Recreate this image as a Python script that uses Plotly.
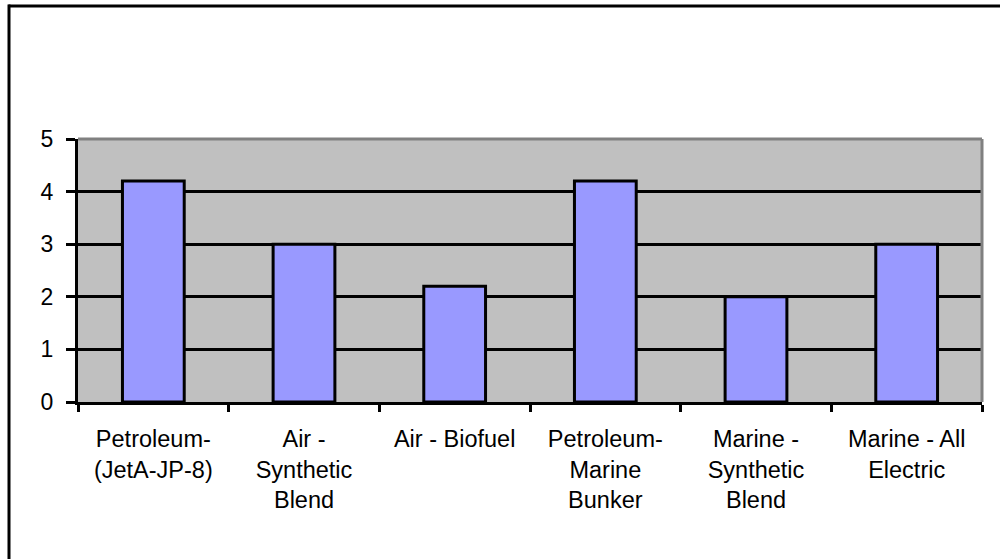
import plotly.graph_objects as go

categories = [
    "Petroleum-<br>(JetA-JP-8)",
    "Air -<br>Synthetic<br>Blend",
    "Air - Biofuel",
    "Petroleum-<br>Marine<br>Bunker",
    "Marine -<br>Synthetic<br>Blend",
    "Marine - All<br>Electric",
]
values = [4.2, 3.0, 2.2, 4.2, 2.0, 3.0]
y_ticks = [0, 1, 2, 3, 4, 5]

W, H = 1000, 559
L, R, T, B = 78, 18, 139, 157
pw, ph = W - L - R, H - T - B


def px_x(x):
    return (x - L) / pw


def px_y(y):
    return (H - B - y) / ph


fig = go.Figure()
fig.add_trace(go.Bar(
    x=categories,
    y=values,
    width=0.41,
    marker=dict(color="#9999FF", line=dict(color="#000000", width=3)),
    showlegend=False,
    hoverinfo="skip",
))

shapes = [
    # grey plot-area border on top and right
    dict(type="line", xref="paper", yref="paper", x0=0, x1=1, y0=1, y1=1,
         line=dict(color="#808080", width=3), layer="above"),
    dict(type="line", xref="paper", yref="paper", x0=1, x1=1, y0=0, y1=1,
         line=dict(color="#808080", width=3), layer="above"),
    # outer chart border (top and left visible)
    dict(type="line", xref="paper", yref="paper", x0=px_x(8.5), x1=px_x(1010),
         y0=px_y(6), y1=px_y(6), line=dict(color="#000000", width=3)),
    dict(type="line", xref="paper", yref="paper", x0=px_x(9), x1=px_x(9),
         y0=px_y(4.5), y1=px_y(570), line=dict(color="#000000", width=3)),
]

fig.update_layout(
    width=W,
    height=H,
    margin=dict(l=L, r=R, t=T, b=B, pad=0),
    paper_bgcolor="#FFFFFF",
    plot_bgcolor="#C0C0C0",
    font=dict(family="Liberation Sans, Arial, sans-serif", size=24, color="#000000"),
    shapes=shapes,
    xaxis=dict(
        type="category",
        tickson="boundaries",
        ticks="outside",
        ticklen=7,
        tickwidth=2.5,
        tickcolor="#000000",
        showline=True,
        linecolor="#000000",
        linewidth=3,
        showgrid=False,
        tickfont=dict(size=23.5),
        ticklabelstandoff=14,
        fixedrange=True,
    ),
    yaxis=dict(
        range=[0, 5],
        tickvals=y_ticks,
        ticktext=[str(v) for v in y_ticks],
        ticks="outside",
        ticklen=9,
        tickwidth=3,
        tickcolor="#000000",
        showline=True,
        linecolor="#000000",
        linewidth=3,
        showgrid=True,
        gridcolor="#000000",
        gridwidth=3,
        zeroline=False,
        tickfont=dict(size=23),
        ticklabelstandoff=8,
        fixedrange=True,
    ),
)

fig.write_html(
    "out.html",
    config={"displayModeBar": False},
    post_script="document.body.style.margin='0';",
)
